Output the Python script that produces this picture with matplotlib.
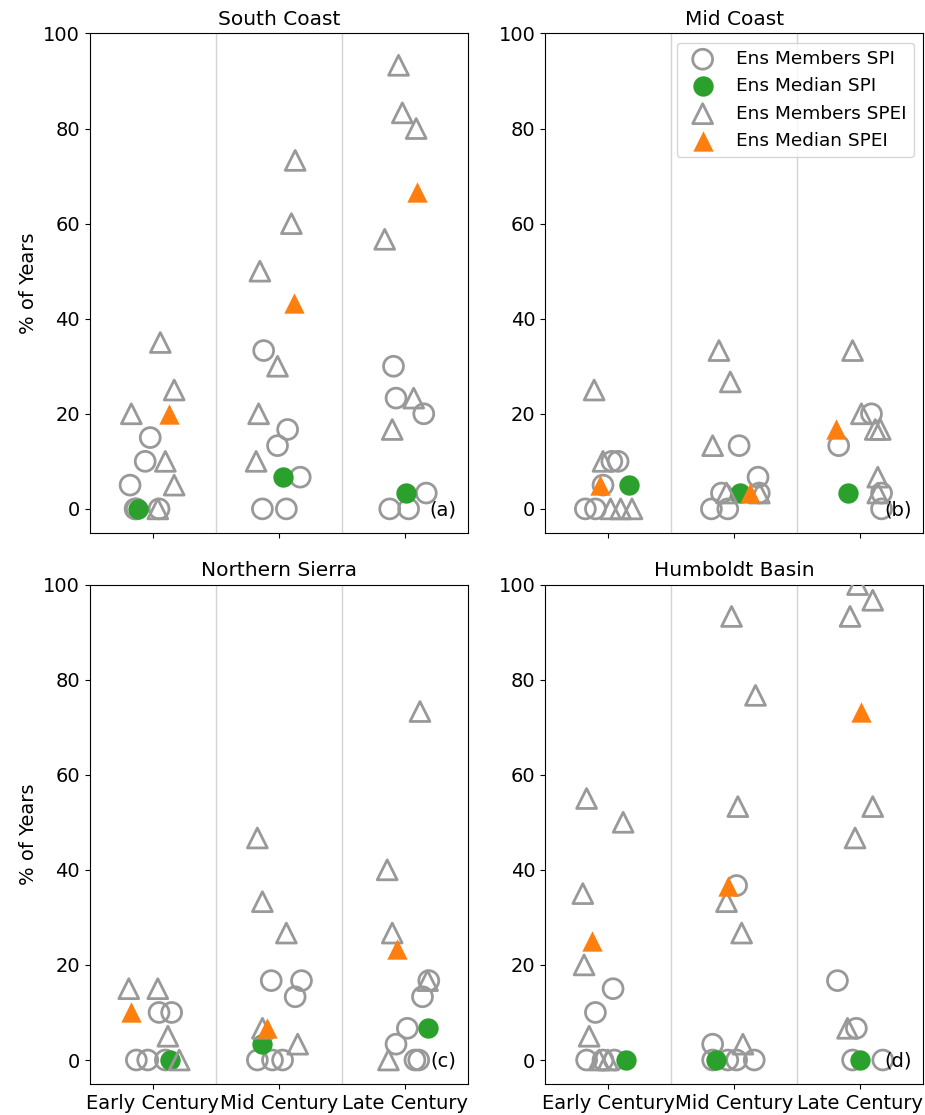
import numpy as np
import matplotlib
matplotlib.use("Agg")
import matplotlib.pyplot as plt

periods = ["Early Century", "Mid Century", "Late Century"]

# South Coast
sc_spi = [[15, 10, 5, 0, 0, 0], [33.3, 16.7, 13.3, 6.67, 0, 0], [30, 23.3, 20, 3.33, 0, 0]]
sc_spi_jit = [[-0.02, -0.06, -0.18, -0.14, 0.05, -0.13], [-0.12, 0.07, -0.01, 0.17, -0.13, 0.06],
              [-0.09, -0.07, 0.15, 0.17, -0.12, 0.03]]
sc_spi_med = [0, 6.67, 3.33]
sc_spi_med_jit = [-0.12, 0.03, 0.01]
sc_spei = [[35, 25, 20, 10, 5, 0], [73.3, 60, 50, 30, 20, 10], [93.3, 83.3, 80, 56.7, 23.3, 16.7]]
sc_spei_jit = [[0.06, 0.17, -0.17, 0.10, 0.17, 0.04], [0.13, 0.10, -0.15, -0.01, -0.16, -0.18],
               [-0.05, -0.02, 0.09, -0.16, 0.07, -0.10]]
sc_spei_med = [20, 43.3, 66.7]
sc_spei_med_jit = [0.13, 0.12, 0.10]

# Mid Coast
mc_spi = [[10, 10, 5, 0, 0], [13.3, 6.67, 3.33, 3.33, 0, 0], [20, 13.3, 3.33, 0]]
mc_spi_jit = [[0.03, 0.08, -0.04, -0.18, -0.10], [0.04, 0.19, -0.10, 0.20, -0.18, -0.05],
              [0.09, -0.17, 0.17, 0.17]]
mc_spi_med = [5, 3.33, 3.33]
mc_spi_med_jit = [0.17, 0.05, -0.10]
mc_spei = [[25, 10, 0, 0, 0], [33.3, 26.7, 13.3, 3.33, 3.33], [33.3, 20, 16.7, 16.7, 6.67, 3.33]]
mc_spei_jit = [[-0.11, -0.04, 0.02, 0.10, 0.19], [-0.12, -0.03, -0.17, -0.06, 0.20],
               [-0.06, 0.01, 0.12, 0.16, 0.14, 0.14]]
mc_spei_med = [5, 3.33, 16.7]
mc_spei_med_jit = [-0.06, 0.13, -0.19]

# Northern Sierra
ns_spi = [[10, 10, 0, 0, 0], [16.7, 16.7, 13.3, 0, 0, 0], [16.7, 13.3, 6.67, 3.33, 0, 0]]
ns_spi_jit = [[0.05, 0.15, -0.13, -0.04, 0.10], [-0.06, 0.18, 0.13, -0.17, -0.05, 0.03],
              [0.19, 0.14, 0.02, -0.07, 0.08, 0.11]]
ns_spi_med = [0, 3.33, 6.67]
ns_spi_med_jit = [0.14, -0.13, 0.18]
ns_spei = [[15, 15, 5, 0], [46.7, 33.3, 26.7, 6.67, 3.33], [73.3, 40, 26.7, 16.7, 0]]
ns_spei_jit = [[-0.19, 0.04, 0.12, 0.21], [-0.17, -0.13, 0.06, -0.13, 0.15],
               [0.12, -0.14, -0.10, 0.18, -0.13]]
ns_spei_med = [10, 6.67, 23.3]
ns_spei_med_jit = [-0.17, -0.09, -0.06]

# Humboldt Basin
hb_spi = [[15, 10, 0, 0, 0], [36.7, 3.33, 0, 0, 0, 0], [16.7, 6.67, 0, 0]]
hb_spi_jit = [[0.04, -0.10, -0.17, -0.04, 0.05], [0.02, -0.17, -0.17, -0.05, 0.02, 0.16],
              [-0.18, -0.03, -0.06, 0.18]]
hb_spi_med = [0, 0, 0]
hb_spi_med_jit = [0.14, -0.14, 0.0]
hb_spei = [[55, 50, 35, 20, 5, 0, 0], [93.3, 76.7, 53.3, 33.3, 26.7, 3.33], [100, 96.7, 93.3, 53.3, 46.7, 6.67]]
hb_spei_jit = [[-0.17, 0.12, -0.20, -0.19, -0.15, -0.07, 0.0], [-0.02, 0.17, 0.03, -0.06, 0.06, 0.07],
               [-0.02, 0.10, -0.08, 0.10, -0.04, -0.10]]
hb_spei_med = [25, 36.7, 73.3]
hb_spei_med_jit = [-0.13, -0.05, 0.01]

regions = [
    ("South Coast", "(a)", sc_spi, sc_spi_jit, sc_spi_med, sc_spi_med_jit,
     sc_spei, sc_spei_jit, sc_spei_med, sc_spei_med_jit),
    ("Mid Coast", "(b)", mc_spi, mc_spi_jit, mc_spi_med, mc_spi_med_jit,
     mc_spei, mc_spei_jit, mc_spei_med, mc_spei_med_jit),
    ("Northern Sierra", "(c)", ns_spi, ns_spi_jit, ns_spi_med, ns_spi_med_jit,
     ns_spei, ns_spei_jit, ns_spei_med, ns_spei_med_jit),
    ("Humboldt Basin", "(d)", hb_spi, hb_spi_jit, hb_spi_med, hb_spi_med_jit,
     hb_spei, hb_spei_jit, hb_spei_med, hb_spei_med_jit),
]

member_col = "#999999"
spi_col = "#2ca02c"
spei_col = "#ff7f0e"


def flatten(vals, jit):
    xs, ys = [], []
    for i, (v, j) in enumerate(zip(vals, jit)):
        xs += [i + d for d in j]
        ys += list(v)
    return np.array(xs), np.array(ys)


fig, axes = plt.subplots(2, 2, figsize=(9.25, 11.15), dpi=100)
fig.subplots_adjust(left=0.097, right=0.998, bottom=0.028, top=0.970, wspace=0.204, hspace=0.104)

for ax, (name, tag, spi, spi_j, spi_m, spi_mj, spei, spei_j, spei_m, spei_mj) in zip(axes.flat, regions):
    for sep in [0.5, 1.5]:
        ax.axvline(sep, color="#d3d3d3", lw=1, zorder=0)

    x, y = flatten(spi, spi_j)
    ax.scatter(x, y, s=205, marker="o", facecolors="none", edgecolors=member_col,
               linewidths=2, label="Ens Members SPI", zorder=2)
    ax.scatter(np.arange(3) + np.array(spi_mj), spi_m, s=215, marker="o", color=spi_col,
               linewidths=0, label="Ens Median SPI", zorder=3)
    x, y = flatten(spei, spei_j)
    ax.scatter(x, y, s=205, marker="^", facecolors="none", edgecolors=member_col,
               linewidths=2, label="Ens Members SPEI", zorder=4)
    ax.scatter(np.arange(3) + np.array(spei_mj), spei_m, s=215, marker="^", color=spei_col,
               linewidths=0, label="Ens Median SPEI", zorder=5)

    ax.set_xlim(-0.5, 2.5)
    ax.set_ylim(-5, 100)
    ax.set_xticks(range(3))
    ax.set_yticks(range(0, 101, 20))
    ax.tick_params(labelsize=14)
    ax.set_title(name, fontsize=14.5)
    ax.text(0.97, 0.045, tag, transform=ax.transAxes, ha="right", va="center", fontsize=14)

for ax in axes[0]:
    ax.set_xticklabels([])
for ax in axes[1]:
    ax.set_xticklabels(periods)
for ax in axes[:, 0]:
    ax.set_ylabel("% of Years", fontsize=14)

axes[0, 1].legend(loc="upper right", fontsize=13.3)

fig.savefig("out.png", dpi=100)
